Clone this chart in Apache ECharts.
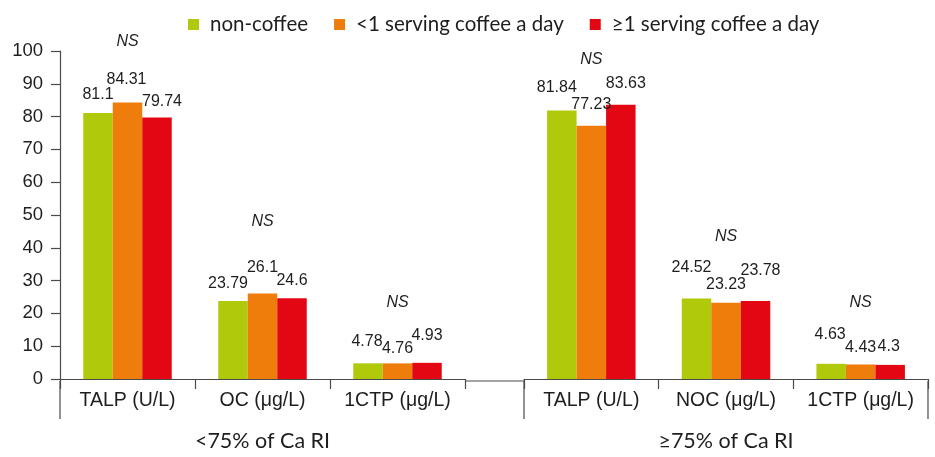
<html>
	<head>
		<meta charset="utf-8">
		<script type="text/javascript" src="https://cdn.jsdelivr.net/npm/echarts@6/dist/echarts.min.js"></script>
	</head>
	<body style="margin: 0; padding: 0; width: 935px; height: 457px; background: #fff;">
        <div id="myChart" style="width: 935px; height: 457px; margin: 0; padding: 0;"></div>
        <script type="text/javascript">
        	// data
        	var groupNames = ['<75% of Ca RI', '≥75% of Ca RI'];
        	var markersLow = ['TALP (U/L)', 'OC (μg/L)', '1CTP (μg/L)'];
        	var markersHigh = ['TALP (U/L)', 'NOC (μg/L)', '1CTP (μg/L)'];
        	var seriesNames = ['non-coffee', '<1 serving coffee a day', '≥1 serving coffee a day'];
        	var nonCoffeeLow = [81.1, 23.79, 4.78];
        	var lessOneLow = [84.31, 26.1, 4.76];
        	var oneOrMoreLow = [79.74, 24.6, 4.93];
        	var nonCoffeeHigh = [81.84, 24.52, 4.63];
        	var lessOneHigh = [77.23, 23.23, 4.43];
        	var oneOrMoreHigh = [83.63, 23.78, 4.3];
        	var sigLow = ['NS', 'NS', 'NS'];
        	var sigHigh = ['NS', 'NS', 'NS'];
        	var yMin = 0, yMax = 100, yStep = 10;

        	// styling
        	var colors = ['#b0ca0b', '#ef7d0c', '#e30613'];
        	var fontArial = 'Liberation Sans, Arial, sans-serif';
        	var fontText = 'Lato, Noto Sans, sans-serif';
        	var txt = '#1e1e1e';
        	var axisCol = '#4a4a4a';
        	var fs = 16;
        	// label nudges [dx, rise above bar top] (labels were placed by hand in the original)
        	var nudgeLow = [
        		[[0, 18], [-5, 17.5], [-1, 22]],
        		[[-1, 23], [0, 26], [0, 15]],
        		[[5, 16], [0, 18], [0, 27]]
        	];
        	var nudgeHigh = [
        		[[-5, 23], [-5, 30.5], [-1, 29.5]],
        		[[0, 21.5], [0, 18], [0, 17]],
        		[[5, 21], [5, 30], [-1.5, 18]]
        	];
        	var nsRiseLow = [61, 72, 61];
        	var nsRiseHigh = [66, 66, 62];

        	var L = {top: 51, height: 330, left0: 60, width0: 405, left1: 524, width1: 404, tail: 38};
        	var axisY = L.top + L.height;

        	function barSeries(name, idx, vals, nudges, axisIdx, cats, sig, nsRise){
        		var s = {
        			name: name, type: 'bar', xAxisIndex: axisIdx, yAxisIndex: axisIdx,
        			barWidth: 29.5, barGap: '0%',
        			itemStyle: {color: colors[idx]},
        			label: {show: true, position: 'top', distance: 0, color: txt, fontSize: fs, fontFamily: fontArial},
        			data: vals.map(function(v, i){
        				return {value: v, label: {offset: [nudges[i][0], -(nudges[i][1] - 8)]}};
        			})
        		};
        		if (sig) {
        			s.markPoint = {
        				symbol: 'circle', symbolSize: 0, silent: true,
        				label: {show: true, position: 'inside', color: txt, fontSize: fs, fontStyle: 'italic', fontFamily: fontArial},
        				data: cats.map(function(c, i){
        					return {coord: [c, vals[i]], label: {formatter: sig[i], offset: [0, -nsRise[i]]}};
        				})
        			};
        		}
        		return s;
        	}

        	function xAxisFor(idx, cats, group){
        		return {
        			type: 'category', gridIndex: idx, data: cats,
        			axisLine: {lineStyle: {color: axisCol, width: 1.2}},
        			axisTick: {show: true, interval: 0, length: 10, lineStyle: {color: axisCol, width: 1.2}},
        			axisLabel: {interval: 0, hideOverlap: false, color: txt, fontSize: 19.5, fontFamily: fontArial, margin: 12},
        			name: group, nameLocation: 'middle', nameGap: 51,
        			nameTextStyle: {color: txt, fontSize: 21.5, fontFamily: fontText}
        		};
        	}

        	function yAxisFor(idx, visible){
        		return {
        			type: 'value', gridIndex: idx, min: yMin, max: yMax, interval: yStep,
        			splitLine: {show: false},
        			axisLine: {show: visible, lineStyle: {color: axisCol, width: 1.2}},
        			axisTick: {show: visible, length: 9, lineStyle: {color: axisCol, width: 1.2}},
        			axisLabel: {show: visible, color: txt, fontSize: 18.5, fontFamily: fontArial, margin: 17}
        		};
        	}

        	var series = [
        		barSeries(seriesNames[0], 0, nonCoffeeLow, nudgeLow[0], 0),
        		barSeries(seriesNames[1], 1, lessOneLow, nudgeLow[1], 0, markersLow, sigLow, nsRiseLow),
        		barSeries(seriesNames[2], 2, oneOrMoreLow, nudgeLow[2], 0),
        		barSeries(seriesNames[0], 0, nonCoffeeHigh, nudgeHigh[0], 1),
        		barSeries(seriesNames[1], 1, lessOneHigh, nudgeHigh[1], 1, markersHigh, sigHigh, nsRiseHigh),
        		barSeries(seriesNames[2], 2, oneOrMoreHigh, nudgeHigh[2], 1)
        	];

        	var lineStyle = {stroke: axisCol, lineWidth: 1.2};
        	var right1 = L.left1 + L.width1;
        	var option = {
        		animation: false,
        		color: colors,
        		legend: {
        			data: seriesNames, left: 183, top: 9,
        			itemWidth: 11, itemHeight: 11, itemGap: 26,
        			icon: 'rect',
        			textStyle: {color: txt, fontSize: 20.5, fontFamily: fontText, padding: [0, 0, 0, 6]}
        		},
        		grid: [
        			{left: L.left0, top: L.top, width: L.width0, height: L.height},
        			{left: L.left1, top: L.top, width: L.width1, height: L.height}
        		],
        		xAxis: [xAxisFor(0, markersLow, groupNames[0]), xAxisFor(1, markersHigh, groupNames[1])],
        		yAxis: [yAxisFor(0, true), yAxisFor(1, false)],
        		graphic: [
        			{type: 'line', shape: {x1: L.left0 + L.width0, y1: axisY, x2: L.left1, y2: axisY}, style: lineStyle},
        			{type: 'line', shape: {x1: L.left0, y1: axisY, x2: L.left0, y2: axisY + L.tail}, style: lineStyle},
        			{type: 'line', shape: {x1: L.left1, y1: axisY, x2: L.left1, y2: axisY + L.tail}, style: lineStyle},
        			{type: 'line', shape: {x1: right1, y1: axisY, x2: right1, y2: axisY + L.tail}, style: lineStyle}
        		],
        		series: series
        	};
        	echarts.init(document.getElementById('myChart')).setOption(option);
	    </script>
    </body>
</html>
